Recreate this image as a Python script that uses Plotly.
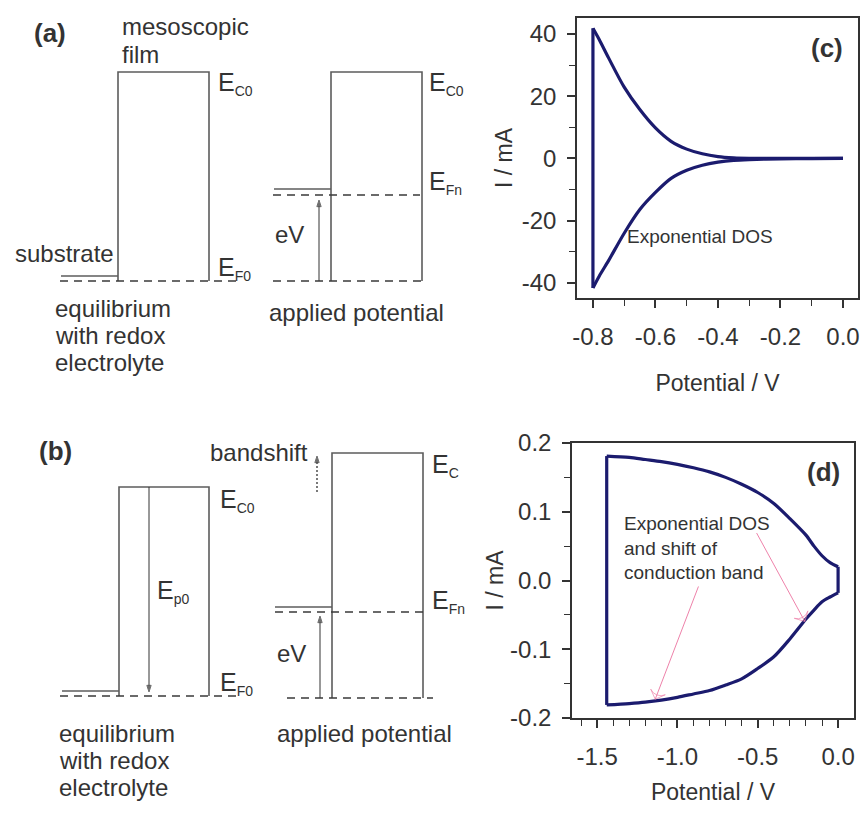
import plotly.graph_objects as go

W, H = 864, 816
FONT = "Liberation Sans, Arial, sans-serif"
NAVY = "#1b1b6e"
AXIS = "#333333"
INK = "#333333"
LINE = "#5c5c5c"
DASH = "#3a3a3a"
PINK = "#ee82aa"

# ---------------- (c) voltammogram, exponential DOS ----------------
c_fwd_v = [0.0, -0.1, -0.2, -0.3, -0.35, -0.4, -0.45, -0.5, -0.55, -0.6,
           -0.65, -0.7, -0.75, -0.78, -0.8]
c_fwd_i = [0.0, 0.0, 0.02, 0.05, 0.2, 0.6, 1.5, 3.0, 5.5, 9.8,
           15.7, 22.9, 32.3, 38.2, 41.8]
c_rev_v = [-0.8, -0.78, -0.75, -0.7, -0.65, -0.6, -0.55, -0.5, -0.45, -0.4,
           -0.35, -0.3, -0.2, -0.1, 0.0]
c_rev_i = [-41.6, -37.8, -32.8, -24.0, -16.4, -10.9, -6.4, -3.8, -2.2, -1.2,
           -0.6, -0.35, -0.1, -0.02, 0.0]
c_xticks = [-0.8, -0.6, -0.4, -0.2, 0.0]
c_xtext = ["-0.8", "-0.6", "-0.4", "-0.2", "0.0"]
c_yticks = [-40, -20, 0, 20, 40]
c_ytext = ["-40", "-20", "0", "20", "40"]

# ---------------- (d) voltammogram, exponential DOS + band shift ----------------
d_top_v = [-1.44, -1.3, -1.2, -1.1, -1.0, -0.9, -0.8, -0.7, -0.6, -0.5,
           -0.4, -0.3, -0.2, -0.15, -0.1, -0.05, 0.0]
d_top_i = [0.181, 0.179, 0.176, 0.173, 0.169, 0.164, 0.158, 0.150, 0.140, 0.128,
           0.112, 0.090, 0.066, 0.050, 0.036, 0.026, 0.020]
d_bot_v = [0.0, -0.05, -0.1, -0.15, -0.2, -0.3, -0.4, -0.5, -0.6, -0.7,
           -0.8, -0.9, -1.0, -1.1, -1.2, -1.3, -1.44]
d_bot_i = [-0.018, -0.024, -0.031, -0.043, -0.056, -0.085, -0.111, -0.128, -0.143, -0.152,
           -0.160, -0.165, -0.170, -0.174, -0.177, -0.179, -0.181]
d_xticks = [-1.5, -1.0, -0.5, 0.0]
d_xtext = ["-1.5", "-1.0", "-0.5", "0.0"]
d_yticks = [-0.2, -0.1, 0.0, 0.1, 0.2]
d_ytext = ["-0.2", "-0.1", "0.0", "0.1", "0.2"]

# ---------------- band diagrams (drawing units, y grows downward) ----------------
# order: (a) equilibrium, (a) applied potential, (b) equilibrium, (b) applied potential
film_left = [118, 331, 119, 332]
film_right = [209, 422, 209, 423]
film_cb = [72, 72, 487, 453]          # conduction band edge E_C
film_base = [281, 281, 696, 698]      # redox Fermi level E_F0
sub_left = [61, 274, 62, 275]
sub_level = [276, 189, 691, 607]      # substrate Fermi level
ef0_from = [60, 273, 60, 287]
ef0_to = [240, 422, 240, 433]
efn_level = [None, 195, None, 612]    # quasi-Fermi level E_Fn
efn_from = [None, 273, None, 275]
efn_to = [None, 420, None, 423]

fig = go.Figure()


def curve(xs, ys, xa, ya, shape="spline"):
    fig.add_trace(go.Scatter(x=xs, y=ys, mode="lines", xaxis=xa, yaxis=ya,
                             line=dict(color=NAVY, width=3.2, shape=shape, smoothing=0.8),
                             showlegend=False, hoverinfo="skip"))


# voltammogram (c): forward sweep, switching edge, return sweep
curve(c_fwd_v, c_fwd_i, "x", "y")
curve([c_fwd_v[-1], c_rev_v[0]], [c_fwd_i[-1], c_rev_i[0]], "x", "y", "linear")
curve(c_rev_v, c_rev_i, "x", "y")
# voltammogram (d)
curve(d_top_v, d_top_i, "x2", "y2")
curve([d_top_v[-1], d_bot_v[0]], [d_top_i[-1], d_bot_i[0]], "x2", "y2", "linear")
curve(d_bot_v, d_bot_i, "x2", "y2")
curve([d_bot_v[-1], d_top_v[0]], [d_bot_i[-1], d_top_i[0]], "x2", "y2", "linear")


def seg(xs, ys, color=LINE, width=1.6, dash="solid", xa="x3", ya="y3", head=None, hsize=7):
    mode = "lines" if head is None else "lines+markers"
    marker = None
    if head is not None:
        marker = dict(symbol=head, size=[0] * (len(xs) - 1) + [hsize], angleref="previous",
                      color=color, line=dict(color=color, width=1))
    fig.add_trace(go.Scatter(x=xs, y=ys, mode=mode, xaxis=xa, yaxis=ya,
                             line=dict(color=color, width=width, dash=dash), marker=marker,
                             showlegend=False, hoverinfo="skip"))


for k in range(4):
    seg([film_left[k], film_left[k], film_right[k], film_right[k]],
        [film_base[k], film_cb[k], film_cb[k], film_base[k]])
    seg([sub_left[k], film_left[k]], [sub_level[k], sub_level[k]])
    seg([ef0_from[k], ef0_to[k]], [film_base[k], film_base[k]],
        color=DASH, width=1.5, dash="8px,6px")
    if efn_level[k] is not None:
        seg([efn_from[k], efn_to[k]], [efn_level[k], efn_level[k]],
            color=DASH, width=1.5, dash="8px,6px")

# eV arrows, E_p0 arrow and the dotted band-shift arrow
seg([319, 319], [281, 200], color=INK, width=1.0, head="arrow", hsize=7)
seg([320, 320], [698, 616], color=INK, width=1.0, head="arrow", hsize=7)
seg([149, 149], [487, 692], color=INK, width=1.0, head="arrow", hsize=7)
seg([317, 317], [492, 456], color=INK, width=1.3, dash="2px,2px", head="arrow", hsize=7)

# pink pointers in (d)
seg([-0.507, -0.207], [0.069, -0.0595], color=PINK, width=1.0, xa="x2", ya="y2",
    head="arrow-wide-open", hsize=11)
seg([-0.869, -1.138], [-0.0087, -0.1727], color=PINK, width=1.0, xa="x2", ya="y2",
    head="arrow-wide-open", hsize=11)

annotations = []


def label(text, x, y, size=24, bold=False, anchor="left"):
    if bold:
        text = "<b>" + text + "</b>"
    annotations.append(dict(x=x, y=y, xref="x3", yref="y3", text=text, showarrow=False,
                            xanchor=anchor, yanchor="middle",
                            font=dict(family=FONT, size=size, color=INK)))


def level(sub, x, y):
    label("E<sub><span style='font-size:14px'>" + sub + "</span></sub>", x, y, size=25)


# (a)
label("(a)", 32, 33, size=26, bold=True)
label("mesoscopic", 120, 26)
label("film", 120, 54)
label("substrate", 13, 253)
label("equilibrium", 53, 308)
label("with redox", 53, 335)
label("electrolyte", 53, 362)
label("applied potential", 267, 312)
label("eV", 273, 234)
level("C0", 216, 83)
level("F0", 216, 268)
level("C0", 427, 83)
level("Fn", 427, 182)

# (b)
label("(b)", 37, 451, size=26, bold=True)
label("bandshift", 208, 452)
label("equilibrium", 57, 733)
label("with redox", 57, 760)
label("electrolyte", 57, 787)
label("applied potential", 275, 733)
label("eV", 275, 653)
level("C0", 218, 500)
level("F0", 218, 683)
level("p0", 155, 591)
level("C", 430, 465)
level("Fn", 430, 601)


def ptext(text, x, y, size, bold=False, anchor="left", align="left"):
    if bold:
        text = "<b>" + text + "</b>"
    annotations.append(dict(x=x / W, y=1 - y / H, xref="paper", yref="paper", text=text,
                            showarrow=False, xanchor=anchor, yanchor="middle", align=align,
                            font=dict(family=FONT, size=size, color=INK)))


ptext("(c)", 827, 48, 26, bold=True, anchor="center")
ptext("(d)", 823, 472, 26, bold=True, anchor="center")
ptext("Exponential DOS", 625, 236, 19)
ptext("Exponential DOS<br>and shift of<br>conduction band", 622, 548, 19)

common = dict(showline=True, linecolor=AXIS, linewidth=1.5, mirror=True,
              ticks="outside", ticklen=8, tickwidth=1.5, tickcolor=AXIS,
              showgrid=False, zeroline=False, automargin=False,
              tickfont=dict(family=FONT, size=24, color=INK), tickmode="array")
minor = dict(ticks="outside", ticklen=6, tickwidth=1.3, tickcolor=AXIS, tickmode="linear", tick0=0)
title_font = dict(family=FONT, size=23, color=INK)

fig.update_layout(
    width=W, height=H, margin=dict(l=0, r=0, t=0, b=0),
    paper_bgcolor="white", plot_bgcolor="white",
    font=dict(family=FONT, color=INK),
    xaxis=dict(domain=[577 / W, 858 / W], anchor="y", range=[-0.851, 0.048],
               tickvals=c_xticks, ticktext=c_xtext, minor=dict(minor, dtick=0.1),
               ticklabelstandoff=8,
               title=dict(text="Potential / V", font=title_font, standoff=26),
               **common),
    yaxis=dict(domain=[1 - 298 / H, 1 - 18 / H], anchor="x", range=[-44.8, 45.1],
               tickvals=c_yticks, ticktext=c_ytext, minor=dict(minor, dtick=10),
               ticklabelstandoff=6,
               title=dict(text="I / mA", font=title_font, standoff=3),
               **common),
    xaxis2=dict(domain=[572 / W, 854 / W], anchor="y2", range=[-1.656, 0.099],
                tickvals=d_xticks, ticktext=d_xtext, minor=dict(minor, dtick=0.1),
                ticklabelstandoff=8,
                title=dict(text="Potential / V", font=title_font, standoff=15),
                **common),
    yaxis2=dict(domain=[1 - 718 / H, 1 - 443 / H], anchor="x2", range=[-0.2, 0.2],
                tickvals=d_yticks, ticktext=d_ytext, minor=dict(minor, dtick=0.05),
                ticklabelstandoff=6,
                title=dict(text="I / mA", font=title_font, standoff=0),
                **common),
    xaxis3=dict(domain=[0, 480 / W], anchor="y3", range=[0, 480], visible=False, fixedrange=True),
    yaxis3=dict(domain=[0, 1], anchor="x3", range=[H, 0], visible=False, fixedrange=True),
    annotations=annotations,
)

fig.write_html("out.html")
